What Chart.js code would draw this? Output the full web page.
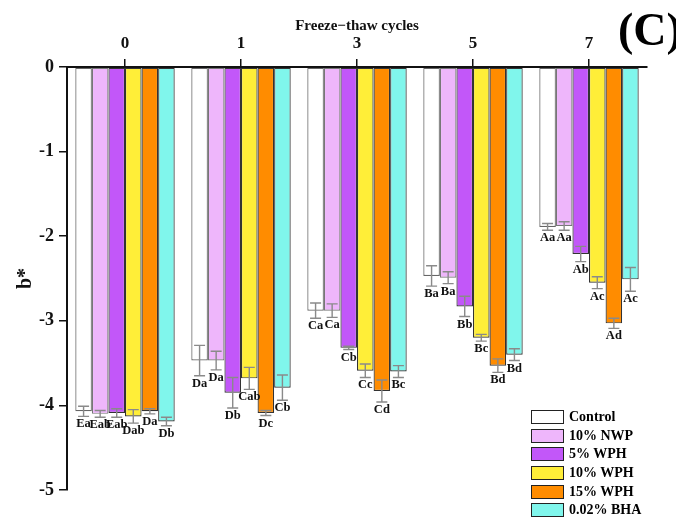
<!DOCTYPE html>
<html>
<head>
<meta charset="utf-8">
<script src="https://cdn.jsdelivr.net/npm/chart.js@4/dist/chart.umd.min.js"></script>
<style>
  body { margin: 0; background: #fff; }
  #wrap { position: relative; width: 676px; height: 520px; overflow: hidden; }
  #panel { position: absolute; left: 618px; top: 3px; font: bold 46px "Liberation Serif", serif; white-space: nowrap; }
  #legend { position: absolute; left: 531px; top: 408px; font: bold 14px "Liberation Serif", serif; }
  .row { display: flex; align-items: center; height: 18.6px; }
  .box { width: 31px; height: 12px; border: 1.3px solid #222; margin-right: 5px; }
</style>
</head>
<body>
<div id="wrap">
  <canvas id="chart" width="676" height="520"></canvas>
  <div id="panel">(C)</div>
  <div id="legend"></div>
</div>
<script>
// Data
const cycles = ['0', '1', '3', '5', '7'];
const groups = ['Control', '10% NWP', '5% WPH', '10% WPH', '15% WPH', '0.02% BHA'];
const colors = ['#ffffff', '#eeb6fb', '#c257f9', '#ffee38', '#ff8c00', '#80f6ec'];
const borders = ['#666', '#777', '#333', '#333', '#333', '#333'];

const control = [-4.07, -3.47, -2.88, -2.47, -1.89];
const nwp10   = [-4.10, -3.47, -2.88, -2.49, -1.88];
const wph5    = [-4.09, -3.85, -3.32, -2.83, -2.21];
const wph10   = [-4.13, -3.68, -3.59, -3.20, -2.55];
const wph15   = [-4.07, -4.09, -3.83, -3.53, -3.03];
const bha     = [-4.19, -3.79, -3.60, -3.40, -2.51];

const errControl = [0.06, 0.18, 0.09, 0.12, 0.04];
const errNwp10   = [0.04, 0.11, 0.08, 0.07, 0.05];
const errWph5    = [0.05, 0.18, 0.02, 0.12, 0.09];
const errWph10   = [0.08, 0.13, 0.08, 0.04, 0.07];
const errWph15   = [0.03, 0.03, 0.13, 0.08, 0.06];
const errBha     = [0.05, 0.15, 0.07, 0.07, 0.14];

const lblControl = ['Ea', 'Da', 'Ca', 'Ba', 'Aa'];
const lblNwp10   = ['Eab', 'Da', 'Ca', 'Ba', 'Aa'];
const lblWph5    = ['Eab', 'Db', 'Cb', 'Bb', 'Ab'];
const lblWph10   = ['Dab', 'Cab', 'Cc', 'Bc', 'Ac'];
const lblWph15   = ['Da', 'Dc', 'Cd', 'Bd', 'Ad'];
const lblBha     = ['Db', 'Cb', 'Bc', 'Bd', 'Ac'];

const yTicks = [0, -1, -2, -3, -4, -5];

const values = [control, nwp10, wph5, wph10, wph15, bha];
const errors = [errControl, errNwp10, errWph5, errWph10, errWph15, errBha];
const letters = [lblControl, lblNwp10, lblWph5, lblWph10, lblWph15, lblBha];

const serif = '"Liberation Serif", "Times New Roman", serif';

// error bars + significance letters
const errorBars = {
  id: 'errorBars',
  afterDatasetsDraw(chart) {
    const ctx = chart.ctx, y = chart.scales.y;
    ctx.save();
    chart.data.datasets.forEach((ds, di) => {
      chart.getDatasetMeta(di).data.forEach((bar, i) => {
        const v = ds.data[i], e = errors[di][i];
        const x = bar.x;
        const yTop = y.getPixelForValue(v + e);
        const yBot = y.getPixelForValue(v - e);
        ctx.strokeStyle = '#8a8a8a';
        ctx.lineWidth = 1.4;
        ctx.beginPath();
        ctx.moveTo(x, yTop); ctx.lineTo(x, yBot);
        ctx.moveTo(x - 5.5, yTop); ctx.lineTo(x + 5.5, yTop);
        ctx.moveTo(x - 5.5, yBot); ctx.lineTo(x + 5.5, yBot);
        ctx.stroke();
        ctx.fillStyle = '#111';
        ctx.font = 'bold 12.5px ' + serif;
        ctx.textAlign = 'center';
        ctx.textBaseline = 'top';
        ctx.fillText(letters[di][i], x, yBot + 1.5);
      });
    });
    ctx.restore();
  }
};

new Chart(document.getElementById('chart'), {
  type: 'bar',
  data: {
    labels: cycles,
    datasets: groups.map((g, i) => ({
      label: g,
      data: values[i],
      backgroundColor: colors[i],
      borderColor: borders[i],
      borderWidth: 1.2,
      borderSkipped: false,
      barPercentage: 1,
      categoryPercentage: 0.857
    }))
  },
  options: {
    responsive: false,
    animation: false,
    layout: { padding: { left: 0, right: 29, top: 0, bottom: 30 } },
    plugins: { legend: { display: false }, tooltip: { enabled: false } },
    scales: {
      x: {
        position: 'top',
        afterFit: s => { s.height = 67; },
        grid: { display: true, drawOnChartArea: false, offset: false, tickLength: 8, color: '#111', lineWidth: 1.5 },
        border: { color: '#111', width: 2 },
        ticks: { color: '#111', padding: 5, font: { family: serif, size: 17, weight: 'bold' } },
        title: { display: true, text: 'Freeze\u2212thaw cycles', color: '#111', padding: { top: 17, bottom: 0 },
                 font: { family: serif, size: 15, weight: 'bold' } }
      },
      y: {
        min: -5, max: 0,
        afterFit: s => { s.width = 67; },
        afterBuildTicks: s => { s.ticks = yTicks.map(v => ({ value: v })); },
        grid: { display: true, drawOnChartArea: false, tickLength: 8, color: '#111', lineWidth: 1.5 },
        border: { color: '#111', width: 2 },
        ticks: { color: '#111', padding: 5, font: { family: serif, size: 18, weight: 'bold' } },
        title: { display: true, text: 'b*', color: '#111', padding: { top: 14, bottom: 0 },
                 font: { family: serif, size: 20, weight: 'bold' } }
      }
    }
  },
  plugins: [errorBars]
});

// legend
const legend = document.getElementById('legend');
groups.forEach((g, i) => {
  const row = document.createElement('div');
  row.className = 'row';
  row.innerHTML = `<span class="box" style="background:${colors[i]}"></span><span>${g}</span>`;
  legend.appendChild(row);
});
</script>
</body>
</html>
